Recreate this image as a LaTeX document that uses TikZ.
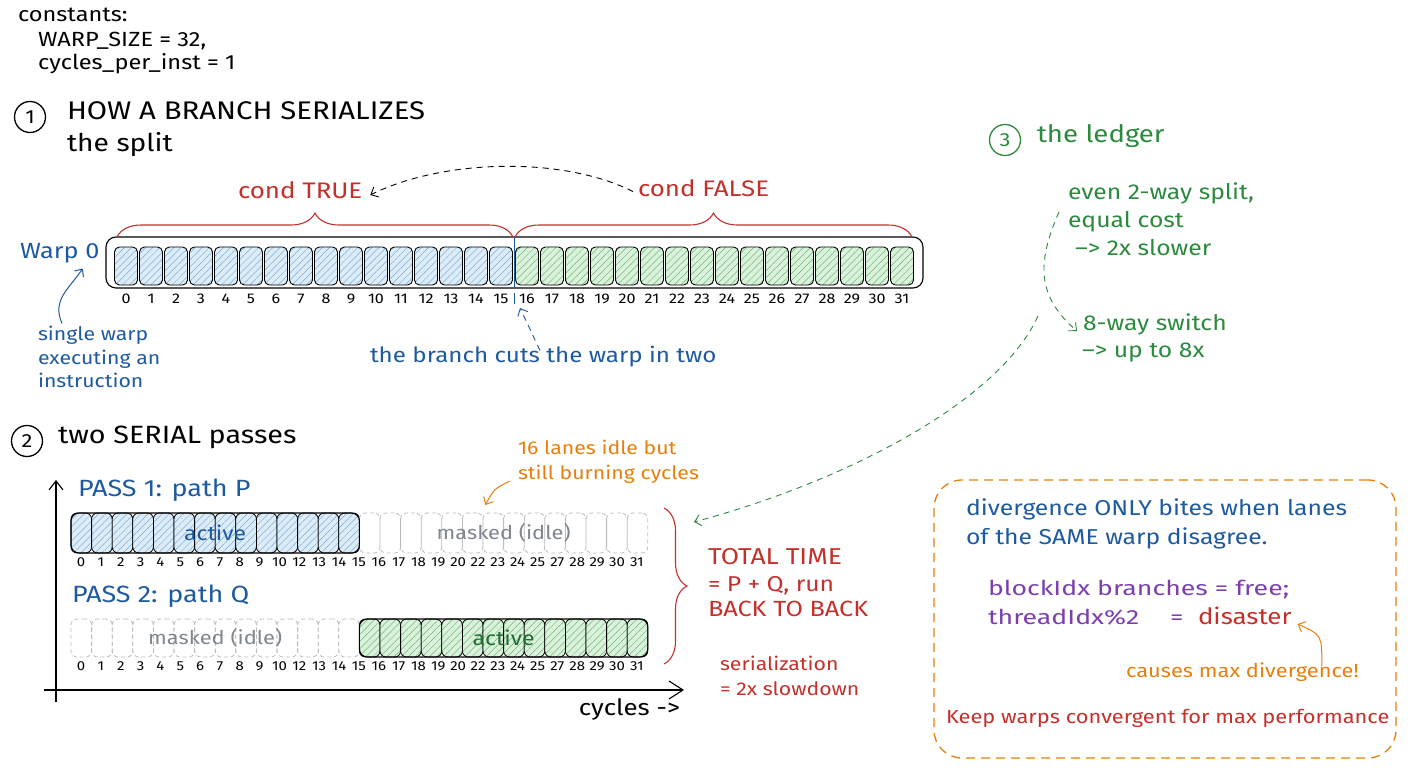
\documentclass[tikz,border=0pt]{standalone}
\usepackage{fontspec}
\setmainfont{Fira Sans}[FakeStretch=1.15]
\newfontfamily\widefont{Fira Sans}[FakeStretch=1.3]
\usetikzlibrary{patterns.meta,decorations.pathreplacing,arrows.meta,calc}

\definecolor{inkblue}{HTML}{1E5AA0}
\definecolor{inkred}{HTML}{C4302B}
\definecolor{inkgreen}{HTML}{2B8A3E}
\definecolor{inkorange}{HTML}{E67F0D}
\definecolor{inkpurple}{HTML}{7B3FAE}
\definecolor{inkgray}{HTML}{80868E}
\definecolor{laneblue}{HTML}{DCECF9}
\definecolor{lanegreen}{HTML}{DAF1DC}
\definecolor{hatchblue}{HTML}{7DAEDB}
\definecolor{hatchgreen}{HTML}{6DBB78}
\definecolor{maskgray}{HTML}{B8BCC2}

\newcommand\fz[1]{\fontsize{#1}{#1}\selectfont}

\begin{document}
\begin{tikzpicture}[x=1pt,y=-1pt,
  every node/.style={inner sep=0pt,outer sep=0pt},
  txt/.style={anchor=west,text height=0.7em,text depth=0.2em},
  body/.style={txt,font=\fz{20}},
  headtxt/.style={txt,font=\fz{25}},
  codetxt/.style={txt,text=inkpurple,font=\widefont\fz{20.5}},
  numc/.style={circle,draw,line width=1.3pt,minimum size=31pt,font=\fz{19}},
  lnum/.style={font=\fz{14},text height=0.7em,text depth=0pt},
  pnum/.style={font=\fz{13},text height=0.7em,text depth=0pt},
  hatchb/.style={preaction={fill=laneblue},pattern={Lines[angle=45,distance=5pt,line width=0.5pt]},pattern color=hatchblue},
  hatchg/.style={preaction={fill=lanegreen},pattern={Lines[angle=45,distance=5pt,line width=0.5pt]},pattern color=hatchgreen},
  wcell/.style={draw,line width=0.9pt,rounded corners=5pt,minimum width=23pt,minimum height=38pt},
  pcell/.style={draw,line width=0.8pt,rounded corners=6pt,minimum width=20.6pt,minimum height=40pt},
  mcell/.style={draw=maskgray,dash pattern=on 4pt off 3pt,line width=0.8pt,rounded corners=6pt,minimum width=20.6pt,minimum height=40pt},
  barb/.style={-{Straight Barb[length=6pt,width=11pt]}},
  dashy/.style={dash pattern=on 6pt off 5pt,line width=0.9pt},
  brc/.style={decorate,decoration={brace,amplitude=#1},inkred,line width=1.1pt},
]
\useasboundingbox (0,0) rectangle (1408,768);

% ---------- constants ----------
\node[txt,font=\fz{20.5}] (k1) at (18,19) {constants:};
\node[txt,font=\fz{20.5}] (k2) at (38,44) {WARP\_SIZE = 32,};
\node[txt,font=\fz{20.5}] (k3) at (38,67) {cycles\_per\_inst = 1};

% ---------- section 1 ----------
\node[numc] (n1) at (30,117) {1};
\node[headtxt,font=\fz{25.5}] (h1) at (67,117) {HOW A BRANCH SERIALIZES};
\node[headtxt,font=\fz{24.5}] (h1s) at (67,149) {the split};

\node[draw,line width=1.1pt,rounded corners=10pt,minimum width=817pt,minimum height=51pt] (warp) at (514.5,262.5) {};
\foreach \i in {0,...,15} {
  \node[wcell,hatchb] (w\i) at ({126+25*\i},266) {};
  \node[lnum] (wl\i) at ({126+25*\i},300) {\i};
}
\foreach \i in {16,...,31} {
  \node[wcell,hatchg] (w\i) at ({127+25*\i},266) {};
  \node[lnum] (wl\i) at ({127+25*\i},300) {\i};
}

% split line between lane 15 and lane 16
\coordinate (cut) at ($(w15.east)!0.5!(w16.west)$);
\draw[inkblue,line width=0.8pt] (cut |- warp.north) -- (cut |- warp.south);
\coordinate (cutlo) at ($(cut |- warp.south)+(0,16)$);
\draw[inkblue,line width=0.8pt] ($(cut |- warp.south)+(0,5)$) -- (cutlo);

% braces over the two halves
\draw[brc=24pt] (117,237) -- (513,237);
\draw[brc=24pt] (515,237) -- (912,237);
\node[txt,font=\fz{22.5},text=inkred] (ctrue) at (238,196) {cond TRUE};
\node[txt,font=\fz{22.5},text=inkred] (cfalse) at (638,194) {cond FALSE};
\draw[barb,dashy] ($(cfalse.north west)+(-5,2)$) .. controls (560,155) and (440,160) .. ($(ctrue.east)+(8,-1)$);

\node[txt,font=\fz{22},text=inkblue] (w0lab) at (20,256) {Warp 0};
\node[body,font=\fz{18.5},text=inkblue] (sw1) at (38,338) {single warp};
\node[body,font=\fz{18.5},text=inkblue] (sw2) at (38,362) {executing an};
\node[body,font=\fz{18.5},text=inkblue] (sw3) at (38,385) {instruction};
\draw[barb,inkblue,line width=1pt] ($(sw1.north west)+(24,-10)$) .. controls (52,300) and (68,290) .. ($(w0lab.south)+(23,8)$);

\node[body,font=\fz{21},text=inkblue] (branch) at (370,360) {the branch cuts the warp in two};
\draw[barb,inkblue,dashy] ($(branch.north west)+(170,-5)$) -- ($(cutlo)+(6,4)$);

% ---------- section 2 ----------
\node[numc] (n2) at (27,441) {2};
\node[headtxt,font=\fz{25}] (h2) at (58,441) {two SERIAL passes};

\coordinate (ytop) at (56,480);
\coordinate (ybot) at (56,702);
\coordinate (xl) at (44,690);
\coordinate (xr) at (684,690);
\draw[-{Straight Barb[length=9pt,width=14pt]},line width=1.1pt] (ybot) -- (ytop);
\draw[-{Straight Barb[length=14pt,width=18pt]},line width=1.1pt] (xl) -- (xr);
\node[txt,font=\fz{22.5},anchor=east] (cyc) at (680,713) {cycles ->};

% pass 1
\node[txt,font=\fz{23.5},text=inkblue] (p1t) at (78,494) {PASS 1: path P};
\foreach \i in {0,...,13} {\node[pcell,hatchb] (a\i) at ({81.3+20.6*\i},533) {};}
\foreach \i in {14,...,27} {\node[mcell] (m\i) at ({81.3+20.6*\i},533) {};}
\draw[line width=1.1pt,rounded corners=8pt] (a0.north west) rectangle (a13.south east);
\node[font=\fz{20},text=inkblue] (act1) at ($(a0)!0.5!(a13)$) {active};
\node[font=\fz{19},text=inkgray] (msk1) at ($(m14)!0.5!(m27)$) {masked (idle)};

% pass 2
\node[txt,font=\fz{23.5},text=inkblue] (p2t) at (72,600) {PASS 2: path Q};
\foreach \i in {0,...,13} {\node[mcell,minimum height=38pt] (q\i) at ({81.3+20.6*\i},638) {};}
\foreach \i in {14,...,27} {\node[pcell,hatchg,minimum height=38pt] (g\i) at ({81.3+20.6*\i},638) {};}
\draw[line width=1.1pt,rounded corners=8pt] (g14.north west) rectangle (g27.south east);
\node[font=\fz{19},text=inkgray] (msk2) at ($(q0)!0.5!(q13)$) {masked (idle)};
\node[font=\fz{20},text=inkgreen!80!black] (act2) at ($(g14)!0.5!(g27)$) {active};

% lane numbers under the passes
\foreach \lab [count=\k from 0] in {0,1,2,3,4,5,6,7,8,9,10,12,13,14,15,16,17,18,19,20,22,23,24,25,27,28,29,30,31} {
  \node[pnum] (pa\k) at ({81+19.85*\k},563) {\lab};
  \node[pnum] (pb\k) at ({81+19.85*\k},667) {\lab};
}

\node[body,font=\fz{18.5},text=inkorange] (idle1) at (518,452) {16 lanes idle but};
\node[body,font=\fz{18.5},text=inkorange] (idle2) at (518,477) {still burning cycles};
\draw[barb,inkorange,line width=1pt] ($(idle2.west)+(-8,4)$) .. controls (494,489) .. ($(m20.north)+(-8,-8)$);

% total time
\draw[brc=23pt] (664,508) -- (664,664);
\coordinate (brtop) at (694,522);
\node[txt,font=\fz{23},text=inkred] (tt1) at (708,562) {TOTAL TIME};
\node[txt,font=\fz{21.5},text=inkred] (tt2) at (708,589) {= P + Q, run};
\node[txt,font=\fz{22},text=inkred] (tt3) at (708,614) {BACK TO BACK};
\node[txt,font=\fz{18.5},text=inkred] (sr1) at (720,668) {serialization};
\node[txt,font=\fz{18.5},text=inkred] (sr2) at (720,693) {= 2x slowdown};

% ---------- section 3 ----------
\node[numc,draw=inkgreen,text=inkgreen] (n3) at (1005,140) {3};
\node[headtxt,font=\fz{24},text=inkgreen] (h3) at (1037,140) {the ledger};
\node[body,font=\fz{21.5},text=inkgreen] (l1) at (1068,197) {even 2-way split,};
\node[body,font=\fz{21.5},text=inkgreen] (l2) at (1068,225) {equal cost};
\node[body,font=\fz{21.5},text=inkgreen] (l3) at (1075,253) {--> 2x slower};
\node[body,font=\fz{21.5},text=inkgreen] (s1) at (1083,328) {8-way switch};
\node[body,font=\fz{21.5},text=inkgreen] (s2) at (1082,355) {--> up to 8x};
\draw[barb,inkgreen,dashy] ($(l2.west)+(-9,-13)$) .. controls (1038,260) and (1035,295) .. ($(s1.west)+(-6,3)$);
\draw[barb,inkgreen,dashy] (1038,316) .. controls (1000,400) and (850,480) .. (brtop);

% ---------- note ----------
\node[draw=inkorange,dash pattern=on 9pt off 6pt,line width=1.3pt,rounded corners=28pt,minimum width=462pt,minimum height=278pt] (note) at (1165,619) {};
\node[body,font=\fz{21.5},text=inkblue] (d1) at (966,513) {divergence ONLY bites when lanes};
\node[body,font=\fz{21.5},text=inkblue] (d2) at (966,542) {of the SAME warp disagree.};
\node[codetxt] (b1) at (988,593) {blockIdx branches = free;};
\node[codetxt] (b2) at (988,622) {threadIdx\%2};
\node[codetxt] (b3) at (1170,622) {=};
\node[body,font=\fz{22.5},text=inkred] (b4) at (1198,622) {disaster};
\node[body,font=\fz{19},text=inkorange] (cm) at (1126,675) {causes max divergence!};
\draw[barb,inkorange,line width=1pt] ($(cm.north east)+(-37,-4)$) .. controls (1322,635) .. ($(b4.east)+(6,2)$);
\node[body,font=\fz{19},text=inkred] (keep) at (946,721) {Keep warps convergent for max performance};

\end{tikzpicture}
\end{document}
